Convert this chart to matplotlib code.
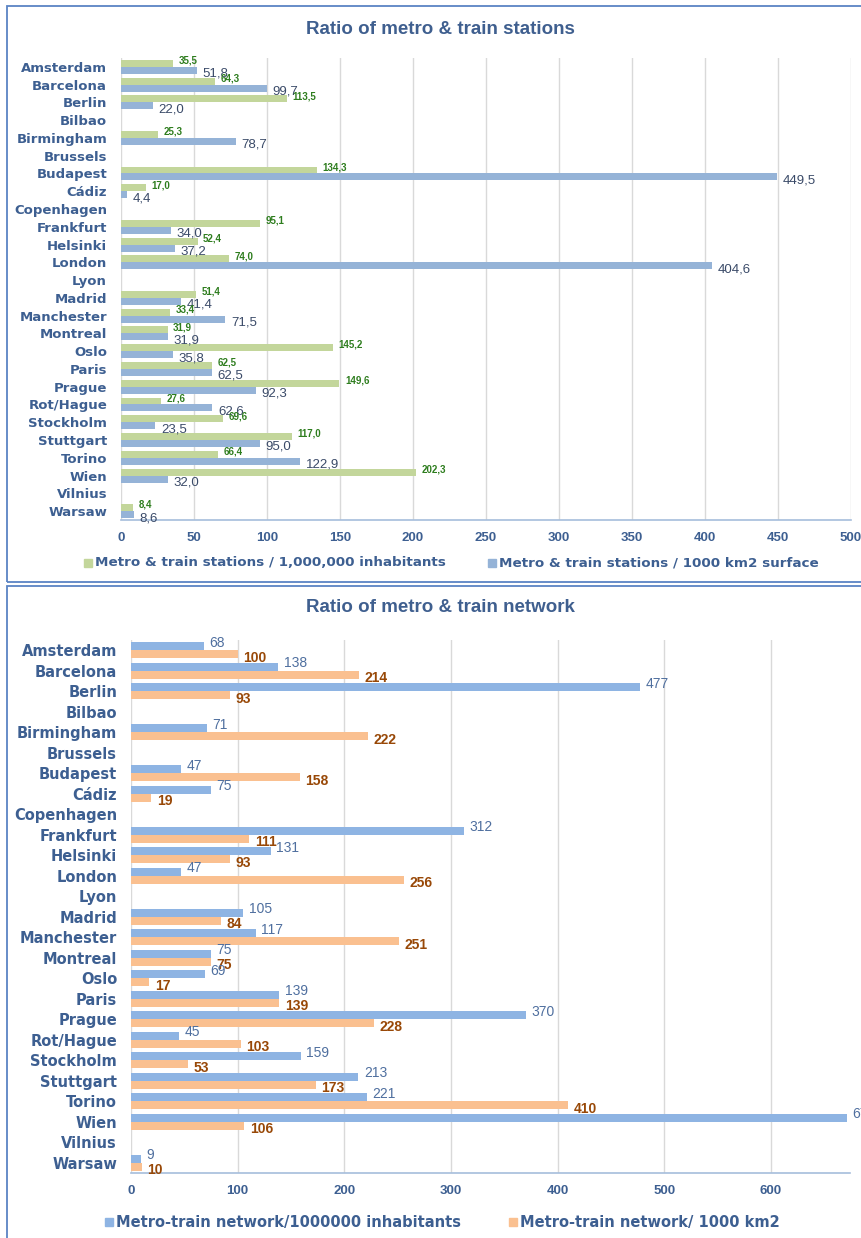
import matplotlib
matplotlib.use("Agg")
import matplotlib.pyplot as plt
from matplotlib.patches import Rectangle
import numpy as np

cities = ["Amsterdam", "Barcelona", "Berlin", "Bilbao", "Birmingham", "Brussels",
          "Budapest", "Cádiz", "Copenhagen", "Frankfurt", "Helsinki", "London",
          "Lyon", "Madrid", "Manchester", "Montreal", "Oslo", "Paris", "Prague",
          "Rot/Hague", "Stockholm", "Stuttgart", "Torino", "Wien", "Vilnius", "Warsaw"]

# top chart: stations
stations_inhab = [35.5, 64.3, 113.5, None, 25.3, None, 134.3, 17.0, None, 95.1, 52.4, 74.0,
                  None, 51.4, 33.4, 31.9, 145.2, 62.5, 149.6, 27.6, 69.6, 117.0, 66.4, 202.3,
                  None, 8.4]
stations_surface = [51.8, 99.7, 22.0, None, 78.7, None, 449.5, 4.4, None, 34.0, 37.2, 404.6,
                    None, 41.4, 71.5, 31.9, 35.8, 62.5, 92.3, 62.6, 23.5, 95.0, 122.9, 32.0,
                    None, 8.6]

# bottom chart: network
network_inhab = [68, 138, 477, None, 71, None, 47, 75, None, 312, 131, 47, None, 105, 117,
                 75, 69, 139, 370, 45, 159, 213, 221, 671, None, 9]
network_surface = [100, 214, 93, None, 222, None, 158, 19, None, 111, 93, 256, None, 84, 251,
                   75, 17, 139, 228, 103, 53, 173, 410, 106, None, 10]

W, H = 862, 1238
NARROW = ["Liberation Sans Narrow", "Liberation Sans", "DejaVu Sans"]
TXT = "#3D5F91"

fig = plt.figure(figsize=(W / 100, H / 100), dpi=100)


def px_axes(left, top, right, bottom):
    return fig.add_axes([left / W, 1 - bottom / H, (right - left) / W, (bottom - top) / H])


def fmt(v, dec):
    return f"{v:.{dec}f}".replace(".", ",")


def draw(ax, s1, s2, c1, c2, lc1, lc2, style1, style2, xmax, ticks, dec, labsize,
         lab1, lab2, legx, legy, legsize, title, titley):
    n = len(cities)
    y = np.arange(n)
    h = 0.39
    v1 = np.array([np.nan if v is None else v for v in s1])
    v2 = np.array([np.nan if v is None else v for v in s2])
    ax.barh(y - h / 2, v1, height=h, color=c1, zorder=3)
    ax.barh(y + h / 2, v2, height=h, color=c2, zorder=3)
    for i in range(n):
        if s1[i] is not None:
            fs, fw, dy = style1
            ax.annotate(fmt(s1[i], dec), (s1[i], y[i] - h / 2), xytext=(4, dy),
                        textcoords="offset points", ha="left", va="center",
                        fontsize=fs, color=lc1, fontweight=fw, family=NARROW,
                        annotation_clip=False)
        if s2[i] is not None:
            fs, fw, dy = style2
            ax.annotate(fmt(s2[i], dec), (s2[i], y[i] + h / 2), xytext=(4, dy),
                        textcoords="offset points", ha="left", va="center",
                        fontsize=fs, color=lc2, fontweight=fw, family=NARROW,
                        annotation_clip=False)
    ax.set_ylim(n - 0.5, -0.5)
    ax.set_xlim(0, xmax)
    ax.set_yticks(y)
    ax.set_yticklabels(cities, fontsize=labsize, fontweight="bold", color=TXT)
    ax.set_xticks(ticks)
    ax.set_xticklabels([str(t) for t in ticks], family=NARROW, fontsize=9.5,
                       fontweight="bold", color=TXT)
    ax.tick_params(axis="both", length=0)
    ax.tick_params(axis="y", pad=10)
    ax.tick_params(axis="x", pad=9)
    ax.grid(axis="x", color="#D9D9D9", linewidth=1, zorder=0)
    for s in ["top", "right", "left"]:
        ax.spines[s].set_visible(False)
    ax.spines["bottom"].set_color("#A6BEDC")
    ax.spines["bottom"].set_linewidth(1.2)
    fig.text(440 / W, 1 - titley / H, title, ha="center", va="center",
             fontsize=13.5, fontweight="bold", color="#3F5F8F", family=NARROW)
    for (x0, lab, col) in [(legx[0], lab1, c1), (legx[1], lab2, c2)]:
        fig.patches.append(Rectangle((x0 / W, 1 - (legy + 4) / H), 8 / W, 8 / H,
                                     transform=fig.transFigure, color=col))
        fig.text((x0 + 11) / W, 1 - legy / H, lab, ha="left", va="center",
                 fontsize=legsize, fontweight="bold", color=TXT)


ax1 = px_axes(121, 58, 851, 520)
draw(ax1, stations_inhab, stations_surface, "#C3D69B", "#95B3D7", "#2E7D1E", "#3A4A68",
     (7, "bold", 2), (9.5, "normal", -2.5), 500, list(range(0, 501, 50)), 1, 9.5,
     "Metro & train stations / 1,000,000 inhabitants",
     "Metro & train stations / 1000 km2 surface",
     (84, 488), 563, 9.7, "Ratio of metro & train stations", 30)

ax2 = px_axes(131, 640, 850, 1173)
draw(ax2, network_inhab, network_surface, "#8EB4E3", "#FAC090", "#4F6F9F", "#984807",
     (10, "normal", 2.5), (10, "bold", -2.5), 674, list(range(0, 601, 100)), 0, 10.5,
     "Metro-train network/1000000 inhabitants",
     "Metro-train network/ 1000 km2",
     (105, 509), 1222, 10.5, "Ratio of metro & train network", 608)

# panel borders
edge = "#5B84C4"
fig.patches.append(Rectangle((7 / W, 1 - 582 / H), 870 / W, 576 / H, fill=False,
                             edgecolor=edge, linewidth=1.3, transform=fig.transFigure))
fig.patches.append(Rectangle((7 / W, -0.01), 870 / W, (H - 586) / H + 0.01, fill=False,
                             edgecolor=edge, linewidth=1.3, transform=fig.transFigure))

fig.savefig("out.png", dpi=100)
